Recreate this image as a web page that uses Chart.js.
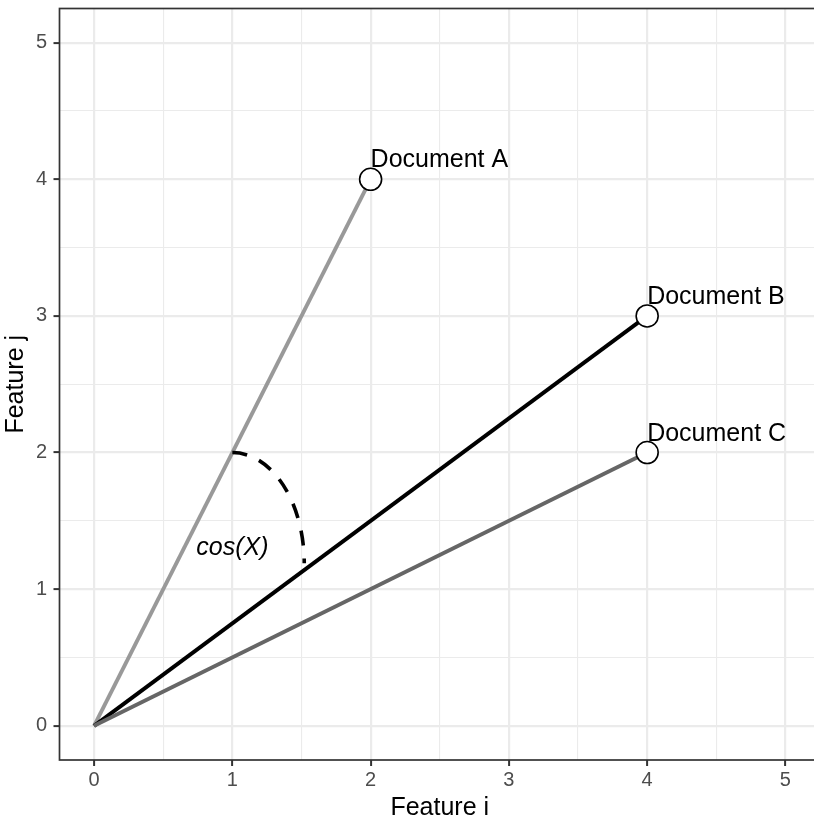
<!DOCTYPE html>
<html lang="en">
<head>
    <title>Cosine similarity</title>
    <meta charset="UTF-8">
    <script src="https://cdn.jsdelivr.net/npm/chart.js"></script>
    <style>
        html, body {
            margin: 0;
            padding: 0;
            background: #ffffff;
            overflow: hidden;
        }

        .wrap {
            width: 822px;
            height: 818px;
        }
    </style>
</head>
<body>
<div class="wrap">
    <canvas id="cosChart" width="822" height="818"></canvas>
</div>
<script>
    // data
    const docNames = ['Document A', 'Document B', 'Document C'];
    const featureI = [2, 4, 4];
    const featureJ = [4, 3, 2];
    const majorTicks = [0, 1, 2, 3, 4, 5];
    const minorTicks = [0.5, 1.5, 2.5, 3.5, 4.5];
    const arcFrom = [1, 2];        // point on vector A
    const arcTo = [1.52, 1.19];    // end near vector B
    const angleLabel = 'cos(X)';
    const angleLabelAt = [1, 1.3];

    // styles
    const lineColors = ['#999999', '#000000', '#666666'];
    const FONT = '"Liberation Sans", Arial, Helvetica, sans-serif';
    const gridValues = majorTicks.concat(minorTicks).sort((a, b) => a - b);
    const isMajor = c => c.tick && majorTicks.includes(c.tick.value);

    Chart.defaults.font.family = FONT;

    const datasets = docNames.map((name, k) => ({
        label: name,
        data: [{x: 0, y: 0}, {x: featureI[k], y: featureJ[k]}],
        showLine: true,
        borderColor: lineColors[k],
        borderWidth: 3.9,
        pointRadius: c => c.dataIndex === 1 ? 11 : 0,
        pointHoverRadius: c => c.dataIndex === 1 ? 11 : 0,
        pointBackgroundColor: '#ffffff',
        pointBorderColor: '#000000',
        pointBorderWidth: 1.6,
        order: docNames.length - k
    }));

    function axis(title, isX) {
        return {
            type: 'linear',
            min: -0.25,
            max: 5.25,
            afterBuildTicks: s => {
                s.ticks = gridValues.map(v => ({value: v}));
            },
            afterFit: s => {
                if (isX) s.height = 58; else s.width = 59.5;
                // no extra room for edge labels, the layout padding decides
                s.paddingLeft = s.paddingRight = s.paddingTop = s.paddingBottom = 0;
            },
            ticks: {
                autoSkip: false,
                maxRotation: 0,
                color: '#4d4d4d',
                font: {size: 20},
                padding: isX ? 2 : 6.5,
                callback: v => majorTicks.includes(v) ? String(v) : ''
            },
            grid: {
                color: '#ebebeb',
                lineWidth: c => isMajor(c) ? 2.2 : 1.1,
                tickColor: c => isMajor(c) ? '#333333' : 'rgba(0,0,0,0)',
                tickWidth: 2,
                tickLength: 6
            },
            border: {display: false},
            title: {
                display: true,
                text: title,
                color: '#000000',
                font: {size: 25, lineHeight: isX ? 0.8 : 1},
                padding: isX ? {top: 0, bottom: 0} : {top: 3.5, bottom: 0}
            }
        };
    }

    const decorations = {
        id: 'decorations',
        afterDatasetsDraw(chart) {
            const {ctx, scales: {x, y}} = chart;

            // dashed angle arc between A and B
            const cx = x.getPixelForValue(arcFrom[0]);
            const cy = y.getPixelForValue(arcTo[1]);
            const rx = x.getPixelForValue(arcTo[0]) - cx;
            const ry = cy - y.getPixelForValue(arcFrom[1]);
            ctx.save();
            ctx.setLineDash([15, 13]);
            ctx.lineWidth = 3.6;
            ctx.strokeStyle = '#000000';
            ctx.beginPath();
            ctx.ellipse(cx, cy, rx, ry, 0, -Math.PI / 2, 0);
            ctx.stroke();
            ctx.setLineDash([]);

            ctx.fillStyle = '#000000';
            ctx.font = 'italic 25px ' + FONT;
            ctx.textAlign = 'center';
            ctx.textBaseline = 'middle';
            ctx.fillText(angleLabel, x.getPixelForValue(angleLabelAt[0]), y.getPixelForValue(angleLabelAt[1]));

            // document labels
            ctx.font = '25px ' + FONT;
            ctx.textAlign = 'left';
            ctx.textBaseline = 'alphabetic';
            docNames.forEach((name, k) => {
                ctx.fillText(name, x.getPixelForValue(featureI[k]), y.getPixelForValue(featureJ[k]) - 12);
            });
            ctx.restore();
        },
        afterDraw(chart) {
            const {ctx, chartArea: a} = chart;
            ctx.save();
            ctx.strokeStyle = '#333333';
            ctx.lineWidth = 1.7;
            ctx.strokeRect(a.left, a.top, a.right - a.left, a.bottom - a.top);
            ctx.restore();
        }
    };

    new Chart(document.getElementById('cosChart'), {
        type: 'scatter',
        data: {datasets: datasets},
        options: {
            responsive: false,
            animation: false,
            layout: {
                autoPadding: false,
                padding: {left: 0, right: 2, top: 8.5, bottom: 0}
            },
            plugins: {
                legend: {display: false},
                tooltip: {enabled: false}
            },
            scales: {
                x: axis('Feature i', true),
                y: axis('Feature j', false)
            }
        },
        plugins: [decorations]
    });
</script>
</body>
</html>
